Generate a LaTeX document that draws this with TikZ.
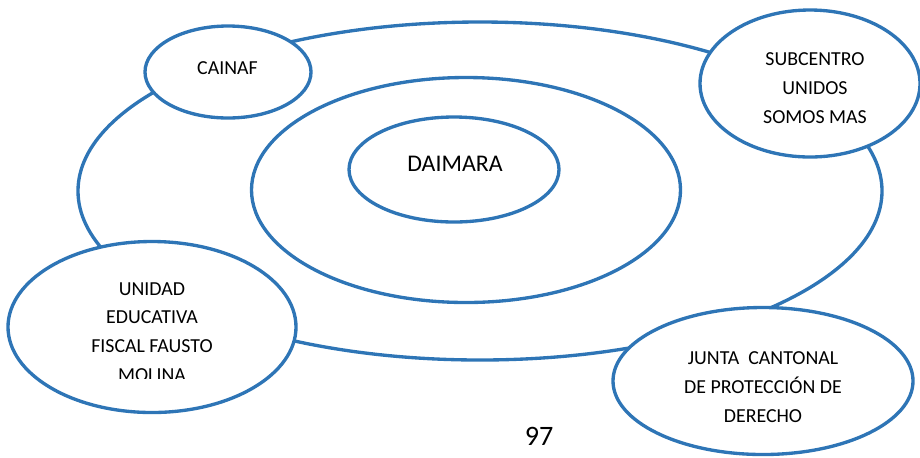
\documentclass[tikz,border=0pt]{standalone}
\usepackage{fontspec}
\setmainfont{Carlito}
\usepackage{xcolor}
\usetikzlibrary{shapes.geometric}

\definecolor{ringblue}{RGB}{46,117,182}

\tikzset{
  ring/.style={draw=ringblue, line width=1.9pt, ellipse, inner sep=0pt},
  bubble/.style={ring, fill=white},
  label/.style={align=center, font=\fontsize{11.3}{16.3}\selectfont}
}

\begin{document}
\begin{tikzpicture}

    \useasboundingbox (0,0) rectangle (18.4,-9.14);

    % Draw the rings round DAIMARA
    \node[ring, minimum width=16.08cm, minimum height=6.76cm] (outer) at (9.6,-3.82) {};
    \node[ring, minimum width=8.58cm, minimum height=4.5cm] (middle) at (9.32,-3.8) {};
    \node[ring, minimum width=4.2cm, minimum height=2.1cm] (daimara) at (9.08,-3.39) {};
    \node[font=\fontsize{13.6}{16}\selectfont] (daimaratxt) at (9.1,-3.27) {DAIMARA};

    % Draw the bubbles on the outer ring
    \node[bubble, minimum width=3.32cm, minimum height=1.84cm] (cainaf) at (4.56,-1.44) {};
    \node[label] (cainaftxt) at (4.55,-1.36) {CAINAF};

    \node[bubble, minimum width=4.4cm, minimum height=2.94cm] (subcentro) at (16.2,-1.67) {};
    \node[label] (subcentrotxt) at (16.3,-1.76) {SUBCENTRO\\UNIDOS\\SOMOS MAS};

    \node[bubble, minimum width=5.76cm, minimum height=3.42cm] (unidad) at (3.04,-6.54) {};
    \begin{scope}
      \clip (0,-4.9) rectangle (6,-7.56);
      \node[label] (unidadtxt) at (3.04,-6.64) {UNIDAD\\EDUCATIVA\\FISCAL FAUSTO\\MOLINA};
    \end{scope}

    \node[bubble, minimum width=6.0cm, minimum height=2.94cm] (junta) at (15.26,-7.62) {};
    \node[label] (juntatxt) at (15.26,-7.74) {JUNTA~ CANTONAL\\DE PROTECCIÓN DE\\DERECHO};

    % Page number
    \node[font=\fontsize{16}{18}\selectfont] (page) at (10.78,-8.72) {97};

\end{tikzpicture}
\end{document}
